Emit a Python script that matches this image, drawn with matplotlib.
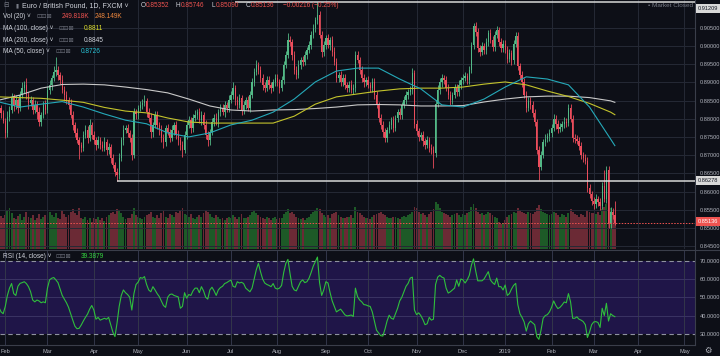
import numpy as np
import pandas as pd
import matplotlib
matplotlib.use("Agg")
import matplotlib.pyplot as plt

plt.rcParams["font.family"] = ["Liberation Sans", "DejaVu Sans"]

BG = "#0d0f17"
GRID = "#252935"
TXT = "#b2b5be"
UP, DN = "#53b987", "#eb4d5c"
VUP, VDN = "#1d5a27", "#6b2a35"

# EUR/GBP daily closes, one list per month
close_jan18 = [0.8830, 0.8815, 0.8795]
close_feb18 = [0.8760, 0.8805, 0.8824, 0.8860, 0.8838, 0.8851, 0.8829, 0.8865, 0.8884, 0.8893,
               0.8865, 0.8843, 0.8851, 0.8824, 0.8838, 0.8818, 0.8791, 0.8810, 0.8838, 0.8824]
close_mar18 = [0.8879, 0.8893, 0.8912, 0.8928, 0.8934, 0.8920, 0.8906, 0.8879, 0.8865, 0.8851, 0.8838,
               0.8810, 0.8783, 0.8761, 0.8741, 0.8728, 0.8720, 0.8755, 0.8769, 0.8747, 0.8783, 0.8755]
close_apr18 = [0.8741, 0.8728, 0.8741, 0.8728, 0.8720, 0.8736, 0.8714, 0.8722, 0.8692, 0.8673, 0.8654,
               0.8645, 0.8692, 0.8741, 0.8769, 0.8774, 0.8760, 0.8747, 0.8700, 0.8818, 0.8812]
close_may18 = [0.8829, 0.8838, 0.8843, 0.8850, 0.8818, 0.8802, 0.8763, 0.8783, 0.8810, 0.8783, 0.8769, 0.8747,
               0.8736, 0.8774, 0.8763, 0.8747, 0.8769, 0.8783, 0.8755, 0.8741, 0.8728, 0.8714, 0.8755]
close_jun18 = [0.8783, 0.8796, 0.8774, 0.8802, 0.8810, 0.8818, 0.8796, 0.8810, 0.8783, 0.8755, 0.8741,
               0.8763, 0.8791, 0.8802, 0.8791, 0.8818, 0.8829, 0.8818, 0.8838, 0.8829, 0.8851]
close_jul18 = [0.8865, 0.8884, 0.8851, 0.8838, 0.8857, 0.8824, 0.8838, 0.8851, 0.8829, 0.8865, 0.8900,
               0.8928, 0.8948, 0.8934, 0.8912, 0.8893, 0.8884, 0.8906, 0.8893, 0.8884, 0.8900, 0.8912]
close_aug18 = [0.8900, 0.8884, 0.8906, 0.8948, 0.8975, 0.9016, 0.9011, 0.8975, 0.8934, 0.8920, 0.8948, 0.8961,
               0.8956, 0.8975, 0.8989, 0.9002, 0.9030, 0.9049, 0.9071, 0.9085, 0.9030, 0.8983, 0.9002]
close_sep18 = [0.9021, 0.9002, 0.9016, 0.8983, 0.8956, 0.8912, 0.8920, 0.8900, 0.8912, 0.8893,
               0.8884, 0.8893, 0.8879, 0.8884, 0.8975, 0.8961, 0.8934, 0.8912, 0.8900, 0.8906]
close_oct18 = [0.8893, 0.8884, 0.8900, 0.8865, 0.8838, 0.8802, 0.8783, 0.8763, 0.8747, 0.8769, 0.8783, 0.8796,
               0.8774, 0.8802, 0.8818, 0.8810, 0.8838, 0.8851, 0.8865, 0.8873, 0.8879, 0.8925, 0.8785]
close_nov18 = [0.8765, 0.8750, 0.8755, 0.8738, 0.8728, 0.8741, 0.8720, 0.8714, 0.8705, 0.8840, 0.8878,
               0.8900, 0.8912, 0.8906, 0.8884, 0.8865, 0.8851, 0.8865, 0.8884, 0.8873, 0.8893, 0.8906]
close_dec18 = [0.8912, 0.8917, 0.8906, 0.8934, 0.9002, 0.9054, 0.9038, 0.8994, 0.8983, 0.8999,
               0.8989, 0.9011, 0.9035, 0.9016, 0.8997, 0.9030, 0.9044, 0.9011, 0.8994, 0.9005]
close_jan19 = [0.8990, 0.8965, 0.8980, 0.8960, 0.9005, 0.9027, 0.8945, 0.8920, 0.8900, 0.8865, 0.8830,
               0.8850, 0.8838, 0.8815, 0.8790, 0.8715, 0.8668, 0.8700, 0.8735, 0.8745, 0.8752, 0.8760]
close_feb19 = [0.8775, 0.8800, 0.8785, 0.8772, 0.8778, 0.8785, 0.8792, 0.8788, 0.8829, 0.8800,
               0.8748, 0.8745, 0.8740, 0.8725, 0.8700, 0.8692, 0.8685, 0.8610, 0.8592, 0.8575]
close_mar19 = [0.8565, 0.8580, 0.8572, 0.8560, 0.8615, 0.8580, 0.8660, 0.8510, 0.8545, 0.85352, 0.85136]
first_open = 0.8845

# wicks beyond the body, in pips
hi_pips = [12, 9, 10,
           8, 15, 10, 12, 9, 14, 7, 11, 16, 10, 18, 9, 12, 8, 13, 10, 15, 9, 11, 14,
           10, 12, 9, 16, 35, 11, 8, 14, 10, 12, 9, 15, 11, 8, 13, 10, 9, 12, 14, 10, 16, 9,
           10, 9, 12, 8, 11, 14, 9, 10, 8, 12, 9, 11, 13, 10, 15, 9, 12, 8, 10, 11, 9,
           9, 12, 10, 14, 8, 11, 13, 9, 12, 10, 8, 15, 11, 9, 12, 10, 14, 9, 11, 13, 8, 12, 10,
           10, 12, 9, 11, 14, 8, 12, 10, 9, 13, 11, 8, 12, 10, 14, 9, 11, 12, 10, 8, 13,
           12, 18, 9, 11, 10, 8, 12, 9, 11, 10, 13, 10, 12, 9, 11, 10, 8, 12, 11, 9, 10, 12,
           10, 9, 12, 11, 10, 20, 12, 9, 11, 10, 13, 9, 11, 10, 9, 12, 10, 11, 9, 36, 12, 10, 11,
           10, 12, 9, 11, 13, 10, 9, 12, 11, 10, 9, 11, 12, 10, 10, 12, 9, 11, 10, 9,
           10, 9, 12, 11, 10, 9, 12, 10, 11, 9, 12, 10, 11, 9, 10, 12, 9, 11, 10, 9, 12, 15, 10,
           12, 10, 9, 11, 10, 12, 9, 11, 10, 12, 15, 11, 10, 9, 12, 11, 10, 9, 11, 10, 12, 9,
           10, 12, 9, 11, 10, 10, 12, 11, 9, 12, 10, 11, 9, 12, 10, 11, 10, 9, 11, 10,
           12, 10, 11, 9, 12, 10, 11, 9, 10, 12, 11, 10, 9, 11, 12, 10, 9, 11, 10, 12, 9, 11,
           10, 12, 9, 11, 10, 9, 12, 10, 11, 12, 10, 9, 11, 10, 12, 9, 11, 10, 12, 9,
           10, 12, 9, 11, 12, 45, 10, 10, 12, 9, 39]
lo_pips = [10, 14, 8,
           14, 9, 12, 8, 16, 10, 13, 9, 7, 12, 10, 15, 8, 11, 9, 18, 10, 12, 8, 10,
           9, 11, 14, 8, 10, 13, 12, 9, 15, 10, 12, 8, 14, 11, 9, 40, 12, 10, 8, 13, 9, 11,
           11, 13, 9, 12, 10, 8, 14, 11, 15, 9, 12, 17, 10, 8, 12, 9, 11, 10, 14, 9, 12,
           12, 9, 11, 8, 13, 10, 15, 12, 9, 11, 14, 10, 16, 12, 9, 11, 8, 13, 10, 12, 14, 18, 9,
           11, 9, 13, 10, 8, 12, 9, 14, 11, 10, 15, 12, 9, 11, 8, 13, 10, 9, 12, 11, 10,
           9, 10, 13, 11, 8, 14, 10, 12, 9, 11, 8, 10, 9, 12, 11, 13, 10, 9, 11, 12, 9, 10,
           11, 12, 9, 10, 8, 9, 11, 14, 12, 10, 9, 11, 10, 9, 12, 8, 10, 9, 11, 10, 9, 13, 10,
           11, 9, 12, 10, 9, 12, 11, 10, 9, 12, 10, 11, 9, 12, 10, 9, 11, 10, 12, 10,
           9, 11, 10, 12, 9, 11, 10, 13, 12, 10, 9, 11, 10, 9, 12, 10, 11, 9, 10, 12, 9, 10, 11,
           10, 11, 9, 12, 10, 9, 11, 10, 40, 10, 9, 11, 12, 10, 9, 11, 12, 10, 9, 11, 10, 12,
           11, 9, 12, 10, 9, 11, 10, 12, 11, 9, 12, 10, 11, 9, 12, 10, 9, 11, 10, 12,
           10, 11, 9, 12, 10, 9, 11, 10, 12, 9, 11, 10, 12, 9, 10, 11, 36, 10, 9, 11, 10, 12,
           11, 9, 12, 10, 9, 11, 10, 12, 9, 10, 12, 11, 9, 10, 11, 12, 9, 11, 10, 12,
           12, 9, 11, 10, 9, 10, 12, 10, 9, 11, 5]

# volume in thousands
vol_k = [240, 265, 250,
         270, 310, 330, 290, 250, 240, 265, 280, 230, 255, 300, 260, 245, 270, 235, 250, 285, 240, 260, 275,
         280, 300, 270, 260, 290, 250, 240, 310, 280, 260, 270, 300, 320, 290, 270, 330, 250, 240, 260, 230, 250, 220,
         250, 240, 260, 230, 245, 225, 255, 270, 290, 300, 280, 320, 310, 290, 260, 240, 250, 245, 280, 330, 270,
         260, 250, 240, 255, 270, 280, 300, 260, 250, 270, 245, 290, 310, 260, 250, 280, 270, 260, 300, 290, 310, 330, 280,
         270, 260, 280, 250, 240, 260, 270, 255, 290, 310, 300, 280, 260, 250, 270, 260, 240, 250, 230, 245, 260,
         250, 270, 260, 240, 255, 280, 250, 245, 260, 270, 300, 310, 290, 270, 260, 250, 240, 255, 245, 235, 250, 260,
         240, 250, 245, 280, 300, 320, 290, 300, 280, 260, 250, 240, 245, 235, 250, 260, 280, 300, 310, 330, 320, 290, 270,
         260, 270, 250, 280, 290, 300, 270, 260, 250, 245, 255, 260, 270, 250, 340, 300, 290, 270, 260, 250,
         250, 240, 260, 270, 280, 290, 300, 280, 270, 260, 250, 245, 255, 260, 250, 240, 255, 265, 260, 270, 280, 300, 340,
         330, 300, 280, 290, 270, 260, 280, 300, 320, 380, 360, 330, 300, 290, 280, 270, 260, 270, 280, 290, 270, 260,
         280, 270, 290, 300, 340, 360, 330, 300, 280, 290, 270, 280, 300, 290, 270, 260, 250, 220, 200, 210,
         230, 260, 270, 280, 300, 290, 330, 310, 300, 290, 280, 300, 290, 280, 300, 330, 350, 320, 300, 290, 280, 270,
         280, 300, 290, 270, 260, 280, 270, 260, 290, 320, 300, 280, 270, 260, 280, 270, 260, 310, 300, 290,
         290, 280, 300, 270, 320, 340, 360, 380, 330, 300, 250]

# RSI(14)
rsi = [44.5, 42, 41,
       45, 51, 55, 57.5, 52, 51, 56, 57.6, 58, 58.5, 57.5, 55.8, 53, 48.5, 47.5, 48.5, 48, 47, 47.5, 47,
       55, 59.5, 60.4, 60.8, 59.5, 58, 54.5, 51, 49, 47, 44.5, 41, 37.5, 34.2, 32.8, 33, 34.8, 37, 39, 40.8, 43.5, 45.5,
       43, 38, 39, 37.5, 38, 38.5, 38, 39, 35, 31, 28.5, 36, 45, 51, 54, 52.5, 51.5, 50, 43, 52, 57,
       58.3, 60.8, 60.4, 61.3, 57, 54, 53, 55.8, 54, 52, 50.4, 48, 45.5, 44.5, 50, 51.5, 51.8, 51, 50.6, 50.2, 44, 45, 52.5,
       49.5, 51.5, 51, 53.5, 55, 55, 52.5, 55.8, 53.5, 50, 49, 54, 55.5, 53.5, 51, 54, 55.3, 56, 57.5, 58, 58.8,
       59.4, 56, 55.5, 58.5, 57.8, 58.2, 57.5, 55, 54, 53, 55, 60, 65, 68.5, 64, 60, 57.8, 57, 56.5, 55.8, 57.5, 55,
       54.5, 55, 56.5, 63.5, 68.5, 70.7, 63, 56, 54, 53.5, 56, 58.5, 59.5, 58, 58.5, 60.4, 63.5, 67, 69.5, 72, 58, 51, 54,
       58.5, 57.8, 52.5, 48, 45, 42, 42.8, 43.5, 42, 40.4, 39.8, 40, 40.3, 39.5, 55, 50.4, 48.5, 47.5, 46, 45.8,
       45.3, 45, 42, 37, 32, 30.5, 29, 28.8, 32.5, 37, 40.2, 38.5, 38, 41, 44, 48, 50, 53, 56, 57.6, 60.5, 61, 43,
       40.5, 41.5, 40, 37.8, 35, 35.5, 39, 37.5, 38, 57, 61, 62, 61, 60.5, 55, 52.3, 53, 54, 55, 59.5, 56, 60,
       59.5, 57.8, 59.5, 62, 67.6, 71, 64.5, 59, 59, 59, 60, 62, 64, 59.5, 58, 57, 60.5, 55.8, 55.8, 54,
       56.7, 51, 52, 54.5, 56.5, 57.6, 46, 41, 39, 36.5, 31.5, 35.5, 37, 36, 35, 28.5, 27, 32, 38.5, 40, 40.5, 42,
       44.5, 48, 45.5, 43.8, 44.5, 45.8, 47.4, 47, 52, 47.5, 38.5, 38.5, 39.3, 38, 37.5, 36.7, 35, 28, 31, 35,
       36.5, 36.7, 36.2, 33.5, 44, 40, 46.7, 37, 41, 40, 39.3879]

# moving averages read every 10 bars (plus the last bar)
ma100 = [0.8860, 0.8858, 0.8856, 0.8851, 0.8845, 0.8831, 0.8821, 0.8816, 0.8802, 0.8791, 0.8788,
         0.8788, 0.8788, 0.8788, 0.8807, 0.8840, 0.8860, 0.8868, 0.8876, 0.8882, 0.8884, 0.8884,
         0.8887, 0.8895, 0.8901, 0.8893, 0.8876, 0.8861, 0.8842, 0.8818, 0.8811]
ma200 = [0.8851, 0.8865, 0.8884, 0.8894, 0.8895, 0.8893, 0.8887, 0.8880, 0.8871, 0.8854, 0.8835,
         0.8824, 0.8821, 0.8824, 0.8825, 0.8828, 0.8832, 0.8838, 0.8839, 0.8838, 0.8835, 0.8835,
         0.8836, 0.8846, 0.8854, 0.8860, 0.8862, 0.8862, 0.8858, 0.8849, 0.8845]
ma50 = [0.8846, 0.8832, 0.8840, 0.8847, 0.8832, 0.8813, 0.8796, 0.8786, 0.8761, 0.8750, 0.8761,
        0.8783, 0.8796, 0.8818, 0.8854, 0.8901, 0.8931, 0.8939, 0.8939, 0.8909, 0.8882, 0.8838,
        0.8832, 0.8854, 0.8887, 0.8915, 0.8909, 0.8893, 0.8832, 0.8744, 0.8726]

high_line = 0.91209
support = 0.86278
last_price = 0.85136

close = np.array(close_jan18 + close_feb18 + close_mar18 + close_apr18 + close_may18 + close_jun18
                 + close_jul18 + close_aug18 + close_sep18 + close_oct18 + close_nov18 + close_dec18
                 + close_jan19 + close_feb19 + close_mar19)
n = len(close)
days = pd.bdate_range("2018-01-29", "2019-03-15")
days = days[~days.isin(pd.to_datetime(["2018-12-25", "2019-01-01"]))]

opn = np.r_[first_open, close[:-1]]
high = np.maximum(opn, close) + np.array(hi_pips) / 1e4
low = np.minimum(opn, close) - np.array(lo_pips) / 1e4
x = np.arange(n)
up = close >= opn

# month starts incl. the empty future area
alld = days.append(pd.bdate_range("2019-03-18", "2019-05-31"))
ym = alld.year * 12 + alld.month
starts = np.flatnonzero(np.r_[True, ym[1:] != ym[:-1]])[1:]
mlabels = ["2019" if alld[i].month == 1 else alld[i].strftime("%b") for i in starts]

W, H = 720, 356
def rect(x0, y0, x1, y1):
    return [x0 / W, 1 - y1 / H, (x1 - x0) / W, (y1 - y0) / H]

fig = plt.figure(figsize=(7.2, 3.56), dpi=100, facecolor=BG)
ax_v = fig.add_axes(rect(0, 0, 695, 249))
ax = fig.add_axes(rect(0, 0, 695, 249), sharex=ax_v)
ax_r = fig.add_axes(rect(0, 250, 695, 345), sharex=ax_v)

AX_FS = 4.1

# volume underlay
ax_v.set_facecolor(BG)
ax_v.bar(x, vol_k, width=0.9, color=np.where(up, VUP, VDN), linewidth=0)
ax_v.set_ylim(0, 2000)
ax_v.axis("off")

# price pane
ax.patch.set_visible(False)
ax.set_xlim(0.5, 330)
ax.set_ylim(0.84421, 0.91261)
ax.set_xticks(starts)
ax.set_yticks(np.arange(0.845, 0.9051, 0.005))
ax.yaxis.tick_right()
ax.yaxis.set_major_formatter(plt.FormatStrFormatter("%.5f"))
ax.tick_params(axis="y", length=0, labelsize=AX_FS, labelcolor=TXT, pad=3.5)
ax.tick_params(axis="x", length=0, labelbottom=False)
ax.grid(True, color=GRID, lw=0.7)
for s in ["top", "left", "bottom"]:
    ax.spines[s].set_visible(False)
ax.spines["right"].set_color("#3a3e4a")

col = np.where(up, UP, DN)
ax.vlines(x, low, high, colors=col, lw=0.6, zorder=3)
ax.bar(x, np.maximum(np.abs(close - opn), 0.00008), bottom=np.minimum(opn, close),
       width=0.62, color=col, linewidth=0, zorder=3)

ma_x = np.r_[np.arange(0, n, 10), n - 1]
ax.plot(ma_x, ma200, color="#c9c9c9", lw=0.8, zorder=4)
ax.plot(ma_x, ma100, color="#c3c32c", lw=0.8, zorder=4)
ax.plot(ma_x, ma50, color="#25a9b9", lw=0.8, zorder=4)

ax.hlines(high_line, 112, 330, color="#d8d8d8", lw=1.1, zorder=4)
ax.hlines(support, 56, 330, color="#d8d8d8", lw=1.1, zorder=4)
ax.axhline(last_price, color="#ef5350", lw=0.7, ls=(0, (1.5, 1.5)), zorder=4)

# rsi pane
ax_r.set_facecolor(BG)
ax_r.set_ylim(23.9, 75.85)
ax_r.axhspan(30, 70, color="#1f1548", lw=0)
for v in (40, 50, 60):
    ax_r.axhline(v, color="#3a3363", lw=0.7)
for v in (30, 70):
    ax_r.axhline(v, color="#8f92a0", lw=0.8, ls=(0, (4, 3)))
ax_r.plot(x, rsi, color="#2fbf3c", lw=0.8, zorder=4)
ax_r.set_yticks([30, 40, 50, 60, 70])
ax_r.yaxis.tick_right()
ax_r.yaxis.set_major_formatter(plt.FormatStrFormatter("%.4f"))
ax_r.tick_params(axis="y", length=0, labelsize=AX_FS, labelcolor=TXT, pad=3.5)
ax_r.set_xticklabels(mlabels)
ax_r.tick_params(axis="x", length=0, labelsize=AX_FS, labelcolor=TXT, pad=3)
ax_r.grid(True, axis="x", color="#33374a", lw=0.7)
for s in ["top", "left"]:
    ax_r.spines[s].set_visible(False)
ax_r.spines["right"].set_color("#3a3e4a")
ax_r.spines["bottom"].set_color("#3a3e4a")
fig.add_artist(plt.Line2D([0, 1], [1 - 249.5 / H] * 2, color="#3a3e4a", lw=0.8))

# right-axis value boxes
def tag(y, s, fc, tc):
    fig.text(698 / W, 1 - y / H, s, fontsize=AX_FS, color=tc, va="center", ha="left",
             bbox=dict(boxstyle="square,pad=0.3", fc=fc, ec="none"))
tag(8.5, "0.91209", "#d8d8d8", "#131722")
tag(180.5, "0.86278", "#d8d8d8", "#131722")
tag(221.5, "0.85136", "#ef5350", "white")

# header texts
HFS = 4.7
def t(xp, yp, s, c=TXT, fs=HFS):
    fig.text(xp / W, 1 - yp / H, s, fontsize=fs, color=c, va="center", ha="left")

red = "#ef5350"
t(3, 5.5, "⊟", "#787b86")
t(15, 5.5, "▮", "#787b86", 4)
t(22, 5.5, "Euro / British Pound, 1D, FXCM ˅", "#d1d4dc", 5.0)
for xp, k, v in [(141, "O", "0.85352"), (176, "H", "0.85746"), (211, "L", "0.85090"), (246, "C", "0.85136")]:
    t(xp, 5.5, k, "#d1d4dc")
    t(xp + 5, 5.5, v, red)
t(283, 5.5, "−0.00216 (−0.25%)", red)

icons = "⊡⊡⊠"
ICO = 4.5
t(3, 16.7, "Vol (20) ˅", "#d1d4dc")
t(36, 16.7, icons, "#6a6d78", ICO)
t(62, 16.7, "249.818K", red)
t(95, 16.7, "248.149K", "#f0883e")
t(3, 28.3, "MA (100, close) ˅", "#d1d4dc")
t(58, 28.3, icons, "#6a6d78", ICO)
t(84, 28.3, "0.8811", "#e3e32e")
t(3, 40, "MA (200, close) ˅", "#d1d4dc")
t(58, 40, icons, "#6a6d78", ICO)
t(84, 40, "0.8845", "#d1d4dc")
t(3, 51.7, "MA (50, close) ˅", "#d1d4dc")
t(55, 51.7, icons, "#6a6d78", ICO)
t(81, 51.7, "0.8726", "#27c3d6")
t(3, 257, "RSI (14, close) ˅", "#d1d4dc")
t(55, 257, icons, "#6a6d78", ICO)
t(81, 257, "39.3879", "#35d43f")

fig.text(693 / W, 1 - 5.5 / H, "• Market Closed", fontsize=4.6, color="#787b86", va="center", ha="right")
fig.text(708 / W, 1 - 351 / H, "⚙", fontsize=6, color=TXT, va="center", ha="center")

fig.savefig("out.png", dpi=100, facecolor=BG)
